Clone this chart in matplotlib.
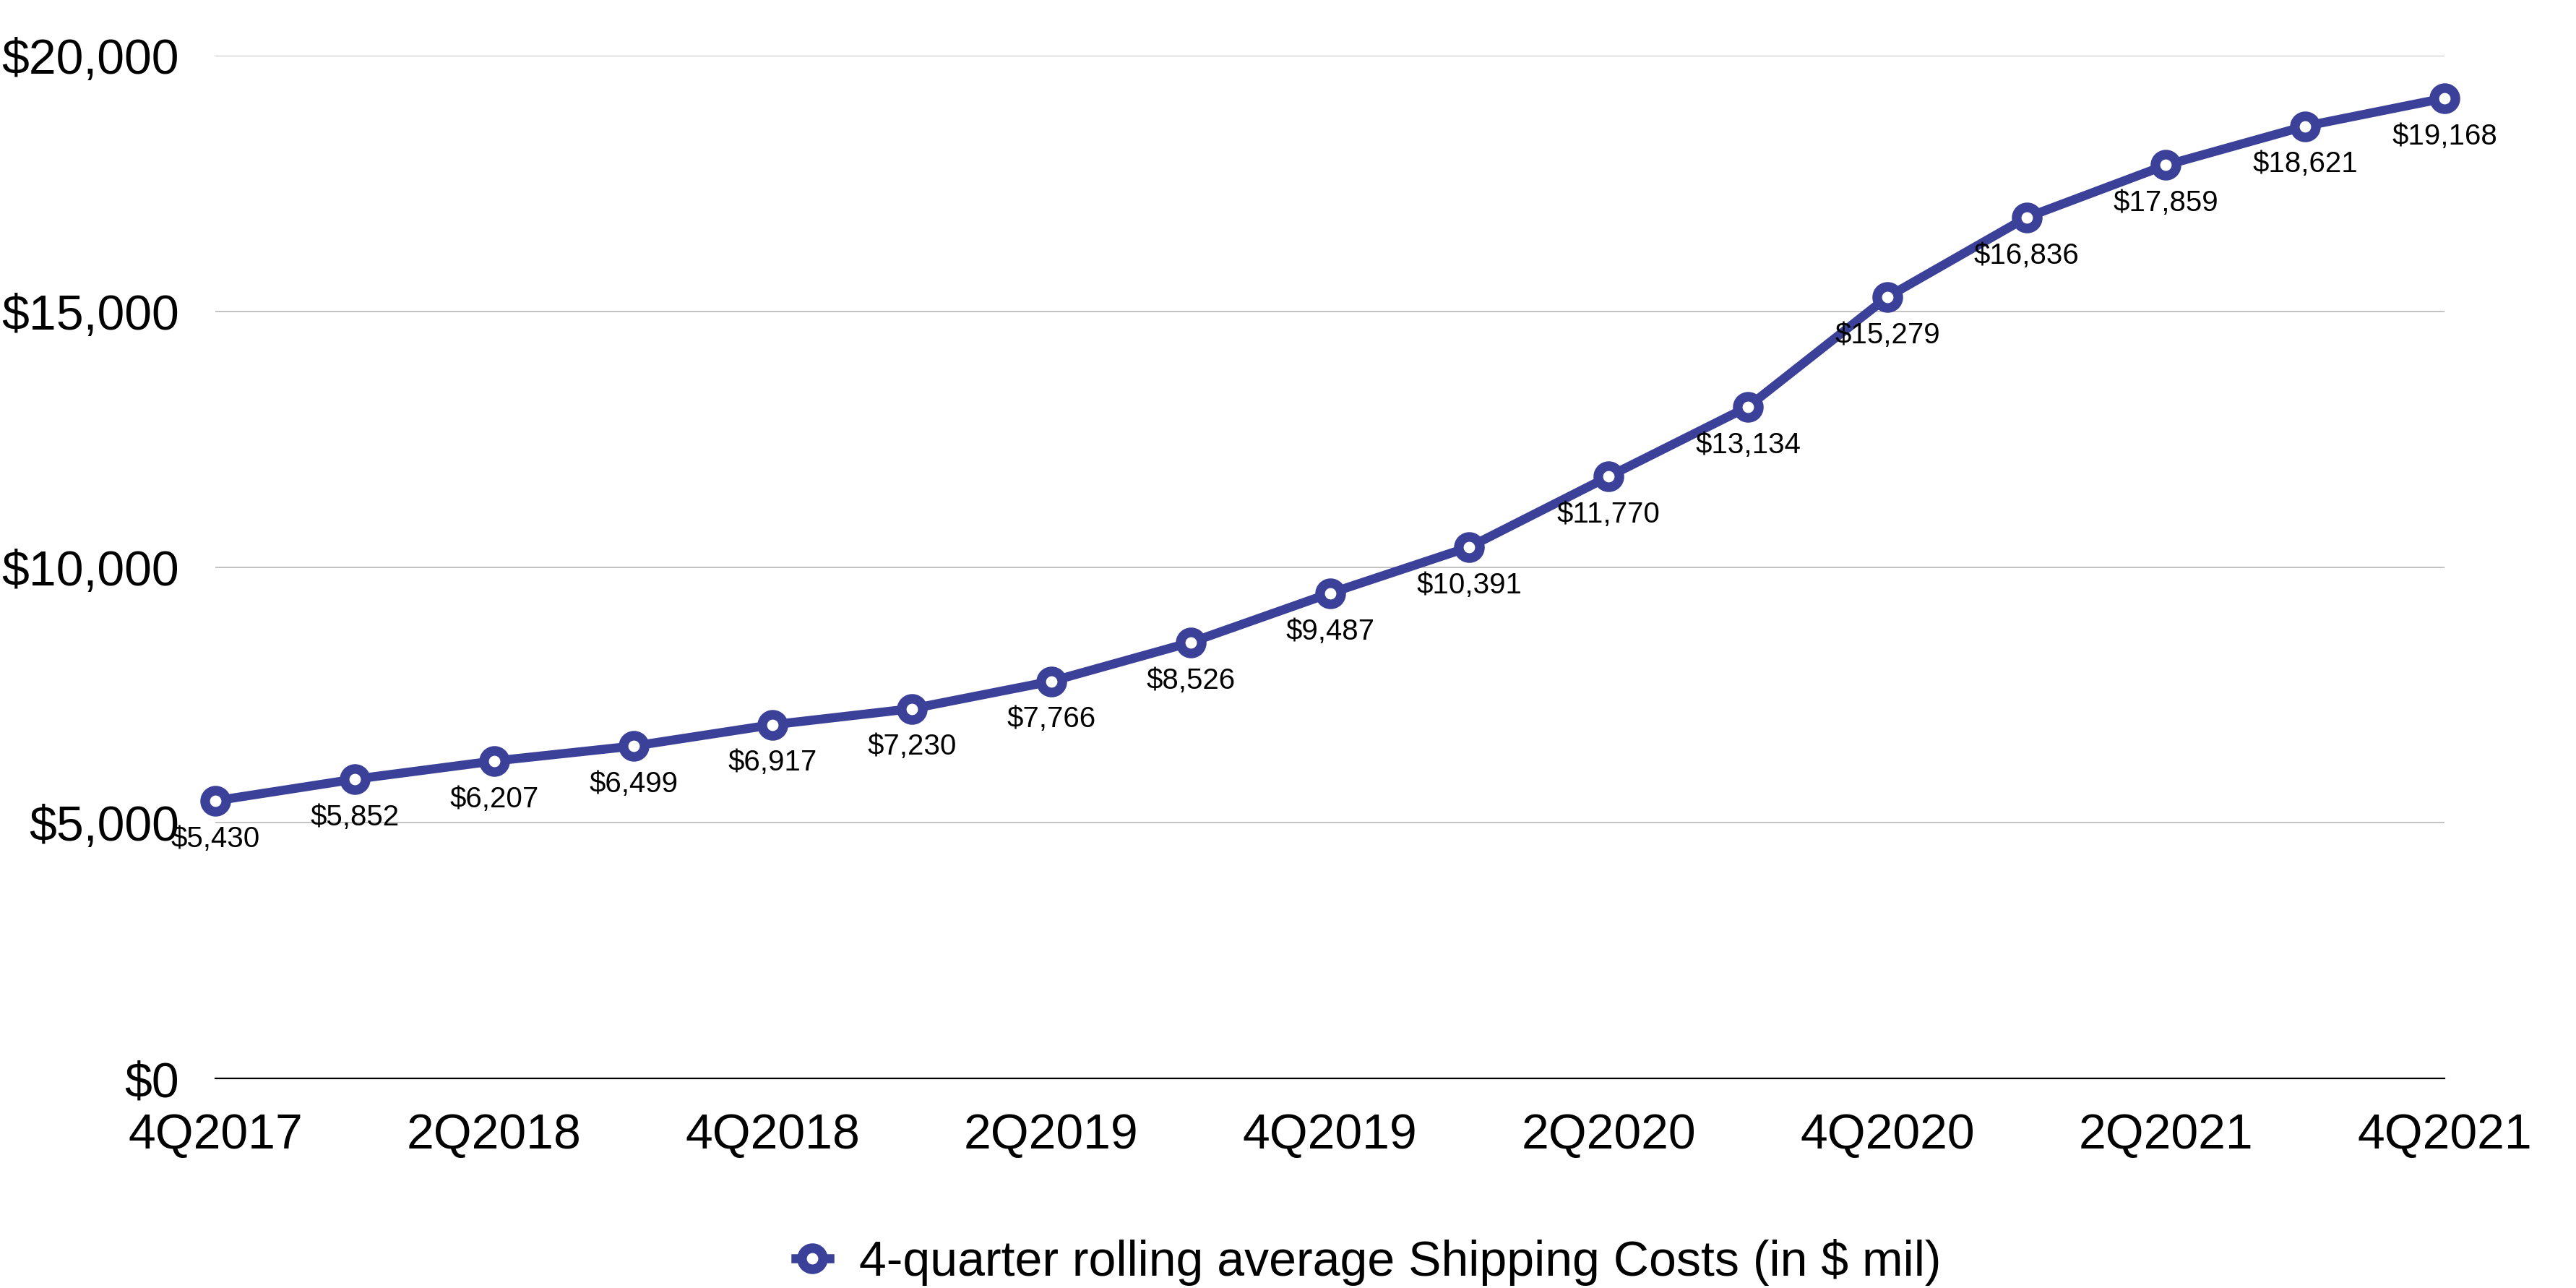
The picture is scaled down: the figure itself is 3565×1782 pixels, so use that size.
import matplotlib
matplotlib.use("Agg")
import matplotlib.pyplot as plt
from matplotlib.ticker import FuncFormatter

plt.rcParams['font.family'] = ['Liberation Sans', 'DejaVu Sans']

quarters = ["4Q2017", "1Q2018", "2Q2018", "3Q2018", "4Q2018", "1Q2019", "2Q2019",
            "3Q2019", "4Q2019", "1Q2020", "2Q2020", "3Q2020", "4Q2020", "1Q2021",
            "2Q2021", "3Q2021", "4Q2021"]
shipping = [5430, 5852, 6207, 6499, 6917, 7230, 7766, 8526, 9487, 10391, 11770,
            13134, 15279, 16836, 17859, 18621, 19168]
yticks = [0, 5000, 10000, 15000, 20000]
series_name = "4-quarter rolling average Shipping Costs (in $ mil)"

color = "#3b4199"
fig = plt.figure(figsize=(17.83, 8.91), dpi=200)
ax = fig.add_axes([0.0836, 0.1627, 0.8651, 0.7941])

x = list(range(len(quarters)))
ax.plot(x, shipping, color=color, lw=4.5, marker='o', ms=10.5, mew=4.8,
        mfc='white', mec=color, label=series_name, zorder=3, clip_on=False)
for xi, v in zip(x, shipping):
    ax.annotate(f"${v:,}", (xi, v), xytext=(0, -19), textcoords='offset points',
                ha='center', va='center', fontsize=14.5, zorder=4)

ax.set_xlim(0, len(quarters) - 1)
ax.set_ylim(0, 20000)
ax.set_yticks(yticks)
ax.yaxis.set_major_formatter(FuncFormatter(lambda v, p: f"${int(v):,}"))
ax.set_xticks(x[::2])
ax.set_xticklabels(quarters[::2])
ax.tick_params(axis='both', length=0, labelsize=24.5)
ax.tick_params(axis='y', pad=18)
ax.tick_params(axis='x', pad=17)
ax.grid(axis='y', color='#b8b8b8', lw=0.6)
ax.set_axisbelow(True)
for s in ['top', 'right', 'left']:
    ax.spines[s].set_visible(False)
ax.spines['bottom'].set_color('black')
ax.spines['bottom'].set_linewidth(0.8)
ax.spines['bottom'].set_zorder(2)

fig.legend(loc='center', bbox_to_anchor=(0.531, 0.02), frameon=False,
           fontsize=24.5, handlelength=0.7, handletextpad=0.6)

fig.savefig("out.png", dpi=200, facecolor='white')
